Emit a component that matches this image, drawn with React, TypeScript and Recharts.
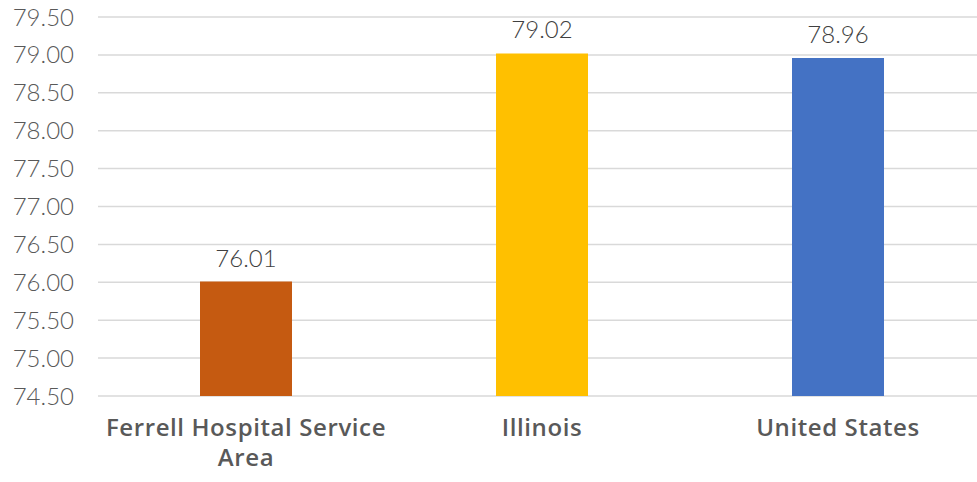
import { Bar, BarChart, CartesianGrid, Cell, LabelList, XAxis, YAxis } from "recharts";

const CATEGORIES = ["Ferrell Hospital Service Area", "Illinois", "United States"];
const VALUES = [76.01, 79.02, 78.96];
const BAR_COLORS = ["#C55A11", "#FFC000", "#4472C4"];
const Y_TICKS = [74.5, 75, 75.5, 76, 76.5, 77, 77.5, 78, 78.5, 79, 79.5];

const data = CATEGORIES.map((name, i) => ({ name, value: VALUES[i] }));

const NUM_FONT = "Lato, 'Open Sans', sans-serif";
const CAT_FONT = "'Open Sans', Lato, sans-serif";

function wrap(text: string, maxChars: number) {
  const lines: string[] = [];
  let cur = "";
  for (const w of text.split(" ")) {
    const next = cur ? cur + " " + w : w;
    if (next.length > maxChars && cur) {
      lines.push(cur);
      cur = w;
    } else {
      cur = next;
    }
  }
  if (cur) lines.push(cur);
  return lines;
}

function CategoryTick({ x, y, payload }: any) {
  const lines = wrap(String(payload.value), 25);
  return (
    <text
      x={x}
      y={y}
      textAnchor="middle"
      fill="#595959"
      fontSize={24}
      fontWeight={600}
      letterSpacing={0.6}
      fontFamily={CAT_FONT}
    >
      {lines.map((l, i) => (
        <tspan key={i} x={x} dy={i === 0 ? 40 : 30}>
          {l}
        </tspan>
      ))}
    </text>
  );
}

export default function App() {
  return (
    <div style={{ position: "absolute", left: 0, top: 0, width: 977, height: 482, overflow: "hidden", background: "#fff" }}>
      <BarChart width={986} height={482} data={data} margin={{ top: 17, right: 0, left: 0, bottom: 0 }}>
        <CartesianGrid vertical={false} stroke="#d9d9d9" strokeWidth={1.5} />
        <XAxis
          dataKey="name"
          axisLine={false}
          tickLine={false}
          tickSize={0}
          tickMargin={0}
          height={86}
          interval={0}
          tick={<CategoryTick />}
        />
        <YAxis
          domain={[74.5, 79.5]}
          ticks={Y_TICKS}
          axisLine={false}
          tickLine={false}
          tickSize={0}
          tickMargin={24}
          width={98}
          tickFormatter={(v: number) => v.toFixed(2)}
          tick={{ fill: "#595959", fontSize: 24, fontWeight: 300, fontFamily: NUM_FONT }}
        />
        <Bar dataKey="value" barSize={92} isAnimationActive={false}>
          {data.map((d, i) => (
            <Cell key={d.name} fill={BAR_COLORS[i]} />
          ))}
          <LabelList
            dataKey="value"
            position="top"
            offset={15}
            formatter={(v: any) => Number(v).toFixed(2)}
            style={{ fill: "#404040", fontSize: 24, fontWeight: 300, fontFamily: NUM_FONT }}
          />
        </Bar>
      </BarChart>
    </div>
  );
}
